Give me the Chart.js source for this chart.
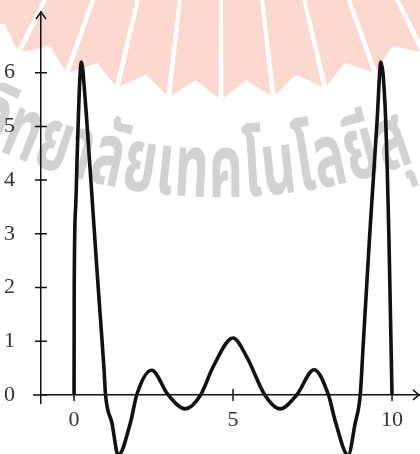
<!DOCTYPE html>
<html>
<head>
<meta charset="utf-8">
<script src="https://cdn.jsdelivr.net/npm/chart.js@4"></script>
<style>
  html, body { margin: 0; padding: 0; background: #fff; }
  #wrap { width: 420px; height: 454px; }
</style>
</head>
<body>
<div id="wrap"><canvas id="curveChart"></canvas></div>
<script>
// values
var xValues = [0, 0.005, 0.05, 0.1, 0.16, 0.23, 0.35, 0.47, 0.585, 0.7, 0.82, 0.94, 0.99, 1.19, 1.39, 1.78, 1.97,
               2.44, 2.96, 3.49, 3.98, 4.37, 5.0, 5.43, 6.0, 6.48, 7.0, 7.55, 8.0, 8.22, 8.62, 8.84, 9.0,
               9.1, 9.2, 9.3, 9.41, 9.53, 9.65, 9.78, 9.85, 9.9, 9.95, 10.0];
var yValues = [0, 2.0, 3.5, 4.5, 5.6, 6.2, 5.5, 4.5, 3.5, 2.5, 1.5, 0.5, 0, -0.52, -1.12, -0.5, 0,
               0.46, 0, -0.26, 0, 0.52, 1.06, 0.71, 0, -0.26, 0, 0.47, 0, -0.5, -1.12, -0.53, 0,
               1.0, 2.0, 3.0, 4.0, 5.1, 6.2, 5.4, 4.2, 3.0, 1.5, 0];
var xTicks = [0, 5, 10];
var yTicks = [0, 1, 2, 3, 4, 5, 6];
var yAxisAt = -1.04;
// watermark text of the scan, split into glyph clusters
var watermark = ['วิ', 'ท', 'ย', 'า', 'ลั', 'ย', 'เ', 'ท', 'ค', 'โ', 'น', 'โ', 'ล', 'ยี', 'สุ'];

var points = xValues.map(function (x, i) { return { x: x, y: yValues[i] }; });

// faint seal behind the plot (pink rays + grey arched lettering)
var sealMark = {
    id: 'sealMark',
    beforeDraw: function (chart) {
        var ctx = chart.ctx;
        var cx = 221, cy = -356;
        var pt = function (ang, r) { return [cx + r * Math.sin(ang), cy + r * Math.cos(ang)]; };
        ctx.save();
        ctx.fillStyle = '#fcd8cf';
        for (var k = -5; k < 5; k++) {
            var a = (k + 0.5) * 0.115, hw = 0.052;
            var p = [pt(a - hw, 300), pt(a - hw, 454), pt(a, 437), pt(a + hw, 454), pt(a + hw, 300)];
            ctx.beginPath();
            ctx.moveTo(p[0][0], p[0][1]);
            for (var j = 1; j < p.length; j++) ctx.lineTo(p[j][0], p[j][1]);
            ctx.closePath();
            ctx.fill();
        }
        // arched text
        ctx.font = 'bold 88px "Noto Sans Thai", "Noto Sans", sans-serif';
        ctx.fillStyle = '#d2d2d2';
        ctx.textAlign = 'center';
        ctx.textBaseline = 'alphabetic';
        var sx = 0.6, r = 553;
        var w = watermark.map(function (c) { return ctx.measureText(c).width * sx; });
        var centers = [], acc = 0;
        w.forEach(function (wi) { centers.push(acc + wi / 2); acc += wi; });
        var iK = 8, iS = 14;
        var phiK = Math.asin((226 - cx) / r), phiS = Math.asin((400 - cx) / r);
        var scale = (phiS - phiK) / (centers[iS] - centers[iK]);
        watermark.forEach(function (c, i) {
            var phi = phiK + (centers[i] - centers[iK]) * scale;
            ctx.save();
            ctx.translate(cx + r * Math.sin(phi), cy + r * Math.cos(phi));
            ctx.rotate(-phi);
            ctx.scale(sx, 1);
            ctx.fillText(c, 0, 0);
            ctx.restore();
        });
        ctx.restore();
    }
};

// crossing tick marks, the short left stub of the x axis, arrow heads
var axisMarks = {
    id: 'axisMarks',
    afterDraw: function (chart) {
        var ctx = chart.ctx;
        var xs = chart.scales.x, ys = chart.scales.y;
        var x0 = xs.getPixelForValue(yAxisAt);
        var y0 = ys.getPixelForValue(0);
        ctx.save();
        ctx.strokeStyle = '#111';
        ctx.lineWidth = 1.5;
        ctx.beginPath();
        xTicks.forEach(function (v) {
            var px = xs.getPixelForValue(v);
            ctx.moveTo(px, y0 - 6);
            ctx.lineTo(px, y0 + 6);
        });
        yTicks.forEach(function (v) {
            var py = ys.getPixelForValue(v);
            ctx.moveTo(x0 - 6, py);
            ctx.lineTo(x0 + 6, py);
        });
        ctx.moveTo(x0 - 8, y0);
        ctx.lineTo(x0, y0);
        var top = chart.chartArea.top, right = chart.chartArea.right;
        ctx.moveTo(x0 - 5, top + 7);
        ctx.lineTo(x0, top);
        ctx.lineTo(x0 + 5, top + 7);
        ctx.moveTo(right - 7, y0 - 5);
        ctx.lineTo(right - 1, y0);
        ctx.lineTo(right - 7, y0 + 5);
        ctx.stroke();
        ctx.restore();
    }
};

var ctx = document.getElementById('curveChart').getContext('2d');
var curveChart = new Chart(ctx, {
    type: 'line',
    data: {
        datasets: [{
            data: points,
            borderColor: '#111',
            borderWidth: 3.6,
            pointRadius: 0,
            fill: false,
            cubicInterpolationMode: 'monotone',
            clip: false
        }]
    },
    options: {
        responsive: true,
        maintainAspectRatio: false,
        animation: false,
        layout: { padding: { left: 0, top: 12, right: 0, bottom: 51 } },
        plugins: { legend: { display: false }, tooltip: { enabled: false } },
        scales: {
            x: {
                type: 'linear',
                min: yAxisAt,
                max: 10.88,
                position: { y: 0 },
                afterBuildTicks: function (scale) {
                    scale.ticks = xTicks.map(function (v) { return { value: v }; });
                },
                afterFit: function (scale) {
                    scale.paddingLeft = 0;
                    scale.paddingRight = 0;
                },
                grid: { display: false },
                border: { display: true, color: '#111', width: 1.5 },
                ticks: {
                    padding: 4,
                    color: '#333',
                    font: { family: '"Liberation Serif", serif', size: 22 }
                }
            },
            y: {
                type: 'linear',
                min: -0.15,
                max: 7.13,
                position: 'left',
                afterBuildTicks: function (scale) {
                    scale.ticks = yTicks.map(function (v) { return { value: v }; });
                },
                afterFit: function (scale) {
                    scale.width = 41;
                    scale.paddingTop = 0;
                    scale.paddingBottom = 0;
                },
                grid: { display: false },
                border: { display: true, color: '#111', width: 1.5 },
                ticks: {
                    padding: 18,
                    color: '#333',
                    font: { family: '"Liberation Serif", serif', size: 22 }
                }
            }
        }
    },
    plugins: [sealMark, axisMarks]
});
</script>
</body>
</html>
